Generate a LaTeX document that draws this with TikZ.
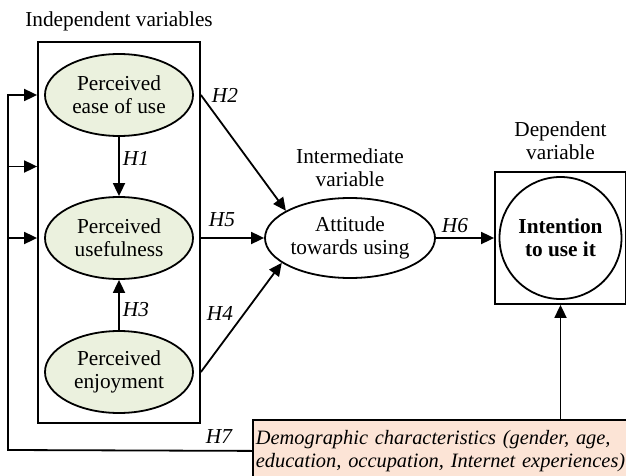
\documentclass[tikz,border=0pt]{standalone}
\usepackage{fontspec}
\setmainfont{Liberation Serif}
\usepackage{xcolor}
\usepackage{tikz}
\usetikzlibrary{arrows.meta}
\usetikzlibrary{calc}
\usetikzlibrary{positioning}
\usetikzlibrary{shapes.geometric}

\definecolor{greenfill}{RGB}{235,241,222}
\definecolor{peachfill}{RGB}{252,228,214}
\newcommand{\bigtext}{\fontsize{21.3}{23}\selectfont}

\begin{document}
\begin{tikzpicture}[x=1pt, y=-1pt, line width=1.8pt, font=\bigtext]
 	  \tikzstyle{var}=[draw, ellipse, fill=greenfill, align=center, inner sep=0pt, minimum width=148pt, minimum height=82pt]
 	  \tikzstyle{arr}=[-{Triangle[length=13pt,width=12pt]}]
 	  \tikzstyle{hyp}=[font=\bigtext\itshape, inner sep=0pt]
 	  \tikzstyle{head}=[align=center, inner sep=0pt]
\useasboundingbox (0,0) rectangle (626,476);
    \node[draw, minimum width=162pt, minimum height=381pt] (indep) at (119,232.5) {};
    \node[head, above=9pt of indep] (indeplab) {Independent variables};
    \node[var] (ease) at (119,95) {Perceived\\ease of use};
    \node[var] (useful) at (119,238) {Perceived\\usefulness};
    \node[var] (enjoy) at (119,372) {Perceived\\enjoyment};
    \node[draw, ellipse, align=center, inner sep=0pt, minimum width=170pt, minimum height=80pt] (attitude) at (350,238) {Attitude\\towards using};
    \node[head, above=9pt of attitude] (interlab) {Intermediate\\variable};
    \node[draw, minimum width=131pt, minimum height=132pt] (dep) at (560.5,238) {};
    \node[draw, circle, minimum size=122pt, inner sep=0pt, align=center, font=\bigtext\bfseries] (intent) at (dep) {Intention\\to use it};
    \node[head, above=10pt of dep] (deplab) {Dependent\\variable};
    \node[draw, fill=peachfill, anchor=north west, text width=400pt, minimum height=62pt, inner xsep=3pt, align=left, font=\fontsize{20.4}{23}\selectfont\itshape] (demo) at (252,419) {Demographic characteristics (gender, age,\\education, occupation, Internet experiences)};
% hypotheses
    \draw[arr] (ease) -- (useful);
    \draw[arr] (enjoy) -- (useful);
    \draw[arr] (indep.east |- ease) -- (attitude.157);
    \draw[arr] (indep.east |- useful) -- (attitude.west);
    \draw[arr] (indep.east |- enjoy) -- (attitude.200);
    \draw[arr] (attitude.east) -- (dep.west);
    \draw[arr] (demo.north -| dep) -- (dep.south);
    \coordinate (loop) at (8,450);
    \coordinate (mid) at ($(ease)!0.5!(useful)$);
    \draw[arr] (demo.west) -- (loop) |- (indep.west |- ease);
\foreach \v in {mid,useful}{
         \draw[arr] (loop |- \v) -- (indep.west |- \v);
      }
    \node[hyp] (h1) at (136,158) {H1};
    \node[hyp] (h2) at (225,95) {H2};
    \node[hyp] (h3) at (136,310) {H3};
    \node[hyp] (h4) at (220,313) {H4};
    \node[hyp] (h5) at (222,220) {H5};
    \node[hyp] (h6) at (455,226) {H6};
    \node[hyp] (h7) at (219,437) {H7};
   \end{tikzpicture}
\end{document}
